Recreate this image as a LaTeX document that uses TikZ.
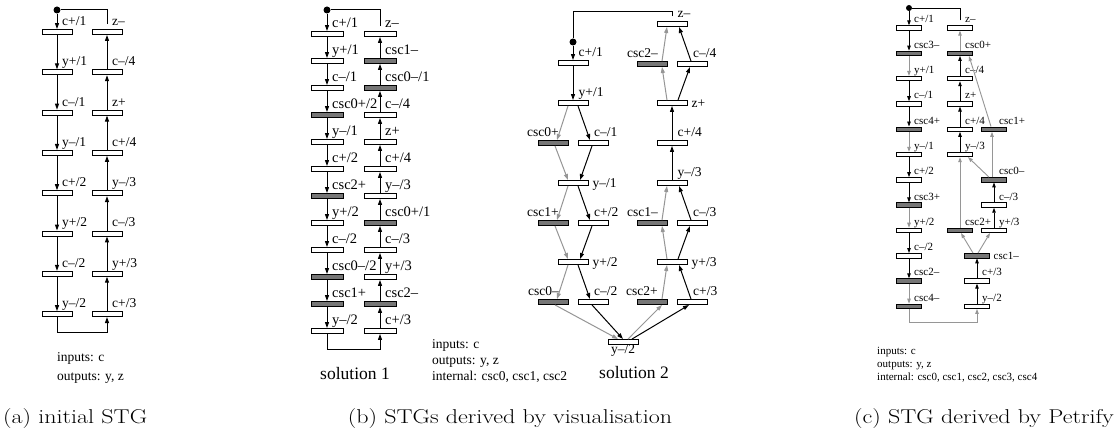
\documentclass[tikz,border=0pt]{standalone}
\usepackage{graphicx}
\usepackage{fontspec}
\newfontfamily\tms{Liberation Serif}
\usetikzlibrary{arrows.meta,calc}
\definecolor{barfill}{RGB}{118,118,118}
\definecolor{edgegray}{RGB}{150,150,150}
% transition bar with its label: style, name, position, label style, text
\newcommand\stgt[5]{\node[#1] (#2) at (#3) {}; \node[#4] (#2l) at (#3) {#5};}
% arcs between bars, with horizontal offsets at both ends
\newcommand\stgdn[5]{\draw[#1] ([xshift=#3pt]#2.south) -- ([xshift=#5pt]#4.north);}
\newcommand\stgup[5]{\draw[#1] ([xshift=#3pt]#2.north) -- ([xshift=#5pt]#4.south);}
% wide caption lettering
\newcommand\capw[1]{\scalebox{1.2}[1]{#1}}
\begin{document}
\begin{tikzpicture}[x=1pt,y=-1pt,
  bar/.style={draw, line width=0.9pt, inner sep=0pt, minimum height=5pt, fill=white},
  wA/.style={bar, minimum width=30pt},
  wB/.style={bar, minimum width=32pt},
  gB/.style={wB, fill=barfill},
  wS/.style={bar, minimum width=30pt},
  gS/.style={wS, fill=barfill},
  wC/.style={bar, line width=0.8pt, minimum width=25pt, minimum height=4.5pt},
  gC/.style={wC, fill=barfill},
  lt/.style={inner sep=0pt, font=\tms\fontsize{13.5}{15}\selectfont},
  ltb/.style={inner sep=0pt, font=\tms\fontsize{14.5}{16}\selectfont},
  lts/.style={inner sep=0pt, font=\tms\fontsize{11}{12}\selectfont},
  lbA/.style={lt, anchor=base west, xshift=5pt, yshift=6.5pt},
  lbB/.style={ltb, anchor=base west, xshift=5pt, yshift=6pt},
  s2r/.style={lt, anchor=base west, xshift=5.5pt, yshift=6pt},
  s2c/.style={lt, anchor=base west, xshift=1pt, yshift=6pt},
  s2l/.style={lt, anchor=base east, xshift=6pt, yshift=6pt},
  s2s/.style={lt, anchor=base west, xshift=19.5pt, yshift=-4.5pt},
  s2b/.style={lt, anchor=north, yshift=-2.5pt},
  lbC/.style={lts, anchor=base west, xshift=5pt, yshift=5pt},
  lbCs/.style={lts, anchor=base west, xshift=16.5pt, yshift=-3.5pt},
  ed/.style={line width=1pt, -{Triangle[length=6pt,width=4pt]}},
  eg/.style={ed, draw=edgegray},
  ln/.style={line width=1pt},
  edc/.style={line width=0.9pt, -{Triangle[length=5pt,width=3.5pt]}},
  egc/.style={edc, draw=edgegray},
  dotA/.style={circle, fill=black, inner sep=0pt, minimum size=7pt},
  dotC/.style={circle, fill=black, inner sep=0pt, minimum size=6pt},
  info/.style={lt, anchor=base west},
  infos/.style={lts, anchor=base west},
  soln/.style={inner sep=0pt, anchor=base, font=\tms\fontsize{17.5}{20}\selectfont},
  capt/.style={inner sep=0pt, anchor=base, font=\fontsize{20}{24}\selectfont}
]
\fill[white] (0,0) rectangle (1117,446);
\useasboundingbox (0,0) rectangle (1117,446);

% ---------------- (a) initial STG ----------------
\stgt{wA}{aL1}{57,32}{lbA}{c+/1}
\stgt{wA}{aL2}{57,72.3}{lbA}{y+/1}
\stgt{wA}{aL3}{57,112.6}{lbA}{c–/1}
\stgt{wA}{aL4}{57,152.9}{lbA}{y–/1}
\stgt{wA}{aL5}{57,193.2}{lbA}{c+/2}
\stgt{wA}{aL6}{57,233.5}{lbA}{y+/2}
\stgt{wA}{aL7}{57,273.8}{lbA}{c–/2}
\stgt{wA}{aL8}{57,314.1}{lbA}{y–/2}
\stgt{wA}{aR1}{107,32}{lbA}{z–}
\stgt{wA}{aR2}{107,72.3}{lbA}{c–/4}
\stgt{wA}{aR3}{107,112.6}{lbA}{z+}
\stgt{wA}{aR4}{107,152.9}{lbA}{c+/4}
\stgt{wA}{aR5}{107,193.2}{lbA}{y–/3}
\stgt{wA}{aR6}{107,233.5}{lbA}{c–/3}
\stgt{wA}{aR7}{107,273.8}{lbA}{y+/3}
\stgt{wA}{aR8}{107,314.1}{lbA}{c+/3}
\node[dotA] (aDot) at (57,10) {};
\draw[ed] (aDot) -- (aL1.north);
\foreach \i [evaluate=\i as \j using int(\i+1)] in {1,...,7} {
  \draw[ed] (aL\i.south) -- (aL\j.north);
  \draw[ed] (aR\j.north) -- (aR\i.south);
}
\draw[ln] ([yshift=5pt]aR1.north) |- (aDot);
\draw[ed] (aL8.south) -- ++(0,15.5) -| (aR8.south);
\node[info] (aIn) at (57,362) {inputs: c};
\node[info] (aOut) at (57,380.5) {outputs: y, z};

% ---------------- (b) solution 1 ----------------
\stgt{wB}{bL1}{327,34}{lbB}{c+/1}
\stgt{wB}{bL2}{327,61}{lbB}{y+/1}
\stgt{wB}{bL3}{327,88}{lbB}{c–/1}
\stgt{gB}{bL4}{327,115}{lbB}{csc0+/2}
\stgt{wB}{bL5}{327,142}{lbB}{y–/1}
\stgt{wB}{bL6}{327,169}{lbB}{c+/2}
\stgt{gB}{bL7}{327,196}{lbB}{csc2+}
\stgt{wB}{bL8}{327,223}{lbB}{y+/2}
\stgt{wB}{bL9}{327,250}{lbB}{c–/2}
\stgt{gB}{bL10}{327,277}{lbB}{csc0–/2}
\stgt{gB}{bL11}{327,304}{lbB}{csc1+}
\stgt{wB}{bL12}{327,331}{lbB}{y–/2}
\stgt{wB}{bR1}{380,34}{lbB}{z–}
\stgt{gB}{bR2}{380,61}{lbB}{csc1–}
\stgt{gB}{bR3}{380,88}{lbB}{csc0–/1}
\stgt{wB}{bR4}{380,115}{lbB}{c–/4}
\stgt{wB}{bR5}{380,142}{lbB}{z+}
\stgt{wB}{bR6}{380,169}{lbB}{c+/4}
\stgt{wB}{bR7}{380,196}{lbB}{y–/3}
\stgt{gB}{bR8}{380,223}{lbB}{csc0+/1}
\stgt{wB}{bR9}{380,250}{lbB}{c–/3}
\stgt{wB}{bR10}{380,277}{lbB}{y+/3}
\stgt{gB}{bR11}{380,304}{lbB}{csc2–}
\stgt{wB}{bR12}{380,331}{lbB}{c+/3}
\node[dotA] (bDot) at (327,10) {};
\draw[ed] (bDot) -- (bL1.north);
\foreach \i [evaluate=\i as \j using int(\i+1)] in {1,...,11} {
  \draw[ed] (bL\i.south) -- (bL\j.north);
  \draw[ed] (bR\j.north) -- (bR\i.south);
}
\draw[ln] ([yshift=5pt]bR1.north) |- (bDot);
\draw[ed] (bL12.south) -- ++(0,15.5) -| (bR12.south);
\node[soln] (bSol1) at (355,380) {solution 1};

% ---------------- (b) solution 2 ----------------
\stgt{wS}{tA}{573,63}{s2r}{c+/1}
\stgt{wS}{tB}{573,103}{s2r}{y+/1}
\stgt{gS}{tC}{553,143}{s2l}{csc0+}
\stgt{wS}{tD}{593,143}{s2c}{c–/1}
\stgt{wS}{tE}{573,183}{s2s}{y–/1}
\stgt{gS}{tF}{553,223}{s2l}{csc1+}
\stgt{wS}{tG}{593,223}{s2c}{c+/2}
\stgt{wS}{tH}{573,262}{s2s}{y+/2}
\stgt{gS}{tI}{553,302}{s2l}{csc0–}
\stgt{wS}{tJ}{593,302}{s2c}{c–/2}
\stgt{wS}{tK}{623,342}{s2b}{y–/2}
\stgt{gS}{tL}{652,302}{s2l}{csc2+}
\stgt{wS}{tM}{692,302}{s2c}{c+/3}
\stgt{wS}{tN}{672,262}{s2s}{y+/3}
\stgt{gS}{tO}{652,223}{s2l}{csc1–}
\stgt{wS}{tP}{692,223}{s2c}{c–/3}
\stgt{wS}{tQ}{672,183}{s2r}{y–/3}
\stgt{wS}{tR}{672,143}{s2r}{c+/4}
\stgt{wS}{tS}{672,103}{s2s}{z+}
\stgt{gS}{tT}{652,64}{s2l}{csc2–}
\stgt{wS}{tU}{692,64}{s2c}{c–/4}
\stgt{wS}{tV}{672,24}{s2r}{z–}
\node[dotA] (sDot) at (573,42) {};
\coordinate (sTop) at (573,12);
\draw[ed] (sDot) -- (tA.north);
\stgdn{ed}{tA}{0}{tB}{0}
\stgdn{eg}{tB}{-5}{tC}{4}
\stgdn{ed}{tB}{5}{tD}{-3}
\stgdn{eg}{tC}{2}{tE}{-5}
\stgdn{ed}{tD}{-1}{tE}{7}
\stgdn{eg}{tE}{-5}{tF}{4}
\stgdn{ed}{tE}{5}{tG}{-3}
\stgdn{eg}{tF}{2}{tH}{-5}
\stgdn{ed}{tG}{-1}{tH}{7}
\stgdn{eg}{tH}{-5}{tI}{4}
\stgdn{ed}{tH}{5}{tJ}{-3}
\stgdn{eg}{tI}{2}{tK}{-5}
\stgdn{ed}{tJ}{-1}{tK}{0}
\stgup{eg}{tK}{5}{tL}{10}
\stgup{ed}{tK}{9}{tM}{-3}
\stgup{eg}{tL}{10}{tN}{-5}
\stgup{ed}{tM}{-1}{tN}{7}
\stgup{eg}{tN}{-5}{tO}{10}
\stgup{ed}{tN}{6}{tP}{-2}
\stgup{eg}{tO}{10}{tQ}{-5}
\stgup{ed}{tP}{-1}{tQ}{7}
\stgup{ed}{tQ}{0}{tR}{0}
\stgup{ed}{tR}{0}{tS}{0}
\stgup{eg}{tS}{-5}{tT}{10}
\stgup{ed}{tS}{6}{tU}{-2}
\stgup{eg}{tT}{10}{tV}{-5}
\stgup{ed}{tU}{-1}{tV}{7}
\draw[ln] ([yshift=5pt]tV.north) |- (sTop) -- (sDot);
\node[soln] (bSol2) at (634,379) {solution 2};
\node[info] (bIn) at (432,349) {inputs: c};
\node[info] (bOut) at (432,365) {outputs: y, z};
\node[info] (bInt) at (432,381) {internal: csc0, csc1, csc2};

% ---------------- (c) STG derived by Petrify ----------------
\stgt{wC}{pL1}{909,28}{lbC}{c+/1}
\stgt{gC}{pL2}{909,53.3}{lbC}{csc3–}
\stgt{wC}{pL3}{909,78.6}{lbC}{y+/1}
\stgt{wC}{pL4}{909,103.9}{lbC}{c–/1}
\stgt{gC}{pL5}{909,129.2}{lbC}{csc4+}
\stgt{wC}{pL6}{909,154.5}{lbC}{y–/1}
\stgt{wC}{pL7}{909,179.8}{lbC}{c+/2}
\stgt{gC}{pL8}{909,205.1}{lbC}{csc3+}
\stgt{wC}{pL9}{909,230.4}{lbC}{y+/2}
\stgt{wC}{pL10}{909,255.7}{lbC}{c–/2}
\stgt{gC}{pL11}{909,281}{lbC}{csc2–}
\stgt{gC}{pL12}{909,306.3}{lbC}{csc4–}
\stgt{wC}{pR1}{960,28}{lbC}{z–}
\stgt{gC}{pR2}{960,53.3}{lbC}{csc0+}
\stgt{wC}{pR3}{960,78.6}{lbC}{c–/4}
\stgt{wC}{pR4}{960,103.9}{lbC}{z+}
\stgt{wC}{pR5}{960,129.2}{lbC}{c+/4}
\stgt{wC}{pR6}{960,154.5}{lbC}{y–/3}
\stgt{gC}{pS}{994,129.2}{lbC}{csc1+}
\stgt{gC}{pT}{994,179.8}{lbC}{csc0–}
\stgt{wC}{pU}{994,205.1}{lbC}{c–/3}
\stgt{wC}{pV}{994,230.4}{lbC}{y+/3}
\stgt{gC}{pW}{960,230.4}{lbC}{csc2+}
\stgt{gC}{pX}{977,255.7}{lbCs}{csc1–}
\stgt{wC}{pY}{977,281}{lbC}{c+/3}
\stgt{wC}{pZ}{977,306.3}{lbC}{y–/2}
\node[dotC] (pDot) at (909,8) {};
\draw[edc] (pDot) -- (pL1.north);
\stgdn{edc}{pL1}{0}{pL2}{0}
\stgdn{egc}{pL2}{0}{pL3}{0}
\stgdn{edc}{pL3}{0}{pL4}{0}
\stgdn{edc}{pL4}{0}{pL5}{0}
\stgdn{egc}{pL5}{0}{pL6}{0}
\stgdn{edc}{pL6}{0}{pL7}{0}
\stgdn{edc}{pL7}{0}{pL8}{0}
\stgdn{egc}{pL8}{0}{pL9}{0}
\stgdn{edc}{pL9}{0}{pL10}{0}
\stgdn{edc}{pL10}{0}{pL11}{0}
\stgdn{egc}{pL11}{0}{pL12}{0}
\draw[egc] (pL12.south) -- ++(0,13.5) -| (pZ.south);
\stgup{edc}{pZ}{0}{pY}{0}
\stgup{edc}{pY}{0}{pX}{0}
\stgup{egc}{pX}{-4}{pW}{1}
\stgup{egc}{pX}{1}{pV}{-4}
\stgup{edc}{pV}{0}{pU}{0}
\stgup{edc}{pU}{0}{pT}{0}
\stgup{egc}{pT}{-5}{pR6}{8}
\stgup{egc}{pT}{-2}{pS}{-2}
\stgup{egc}{pW}{0}{pR6}{0}
\stgup{edc}{pR6}{0}{pR5}{0}
\stgup{edc}{pR5}{0}{pR4}{0}
\stgup{edc}{pR4}{0}{pR3}{0}
\stgup{edc}{pR3}{0}{pR2}{0}
\stgup{egc}{pR2}{0}{pR1}{0}
\stgup{egc}{pS}{-3}{pR2}{9}
\draw[line width=0.9pt] ([yshift=5pt]pR1.north) |- (pDot);
\node[infos] (cIn) at (877,355) {inputs: c};
\node[infos] (cOut) at (877,368) {outputs: y, z};
\node[infos] (cInt) at (877,381) {internal: csc0, csc1, csc2, csc3, csc4};

% ---------------- captions ----------------
\node[capt, anchor=base west] (capA) at (3,424) {\capw{(a) initial STG}};
\node[capt] (capB) at (510,424) {\capw{(b) STGs derived by visualisation}};
\node[capt, anchor=base east] (capC) at (1114,424) {\capw{(c) STG derived by Petrify}};
\end{tikzpicture}
\end{document}
